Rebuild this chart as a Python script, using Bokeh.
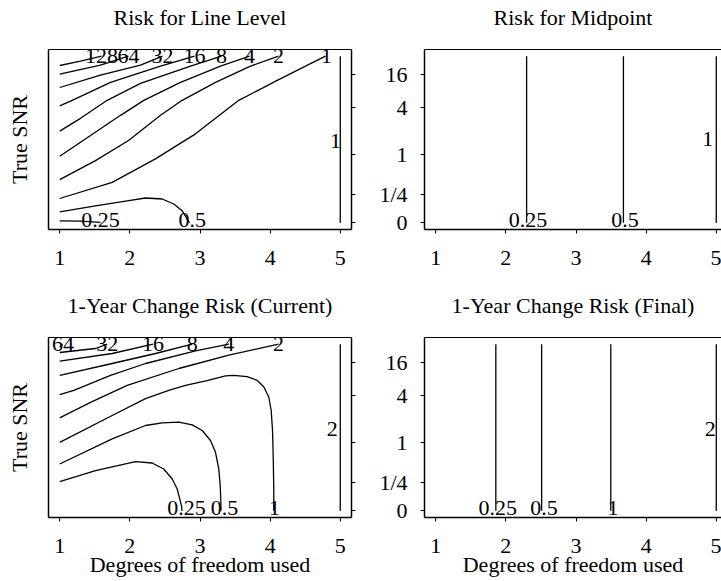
from bokeh.plotting import figure
from bokeh.layouts import row, column
from bokeh.models import FixedTicker, LinearAxis, Range1d
from bokeh.core.properties import value
from bokeh.embed import file_html
from bokeh.resources import INLINE

FONT = "Liberation Serif"
FS = "22px"

# ---------------- axes data ----------------
df_ticks = [1, 2, 3, 4, 5]
snr_tick_pos = [0.0, 0.173, 0.408, 0.695, 0.89]
snr_tick_labels = ["0", "1/4", "1", "4", "16"]

titles = ["Risk for Line Level", "Risk for Midpoint",
          "1-Year Change Risk (Current)", "1-Year Change Risk (Final)"]

# ---------------- panel 1 : Risk for Line Level ----------------
ll_x = [
    [1.0, 1.296, 1.596],
    [1.0, 1.581, 1.981],
    [1.0, 1.581, 2.152, 2.465],
    [1.0, 1.178, 1.724, 2.437, 2.922],
    [1.0, 1.296, 1.677, 2.152, 2.865, 3.307],
    [1.0, 1.439, 1.867, 2.199, 2.722, 3.292, 3.706],
    [1.0, 1.510, 1.981, 2.437, 2.746, 3.221, 3.720, 4.119],
    [1.0, 1.748, 2.365, 2.936, 3.553, 4.101, 4.504, 4.789],
    [1.0, 1.510, 1.985, 2.223, 2.461, 2.626, 2.746, 2.817, 2.850],
    [1.0, 1.296, 1.581],
    [5.0, 5.0],
]
ll_u = [
    [0.944, 0.970, 1.0],
    [0.892, 0.946, 1.0],
    [0.812, 0.886, 0.946, 1.0],
    [0.702, 0.735, 0.843, 0.940, 1.0],
    [0.550, 0.627, 0.735, 0.837, 0.940, 1.0],
    [0.399, 0.524, 0.645, 0.735, 0.843, 0.940, 1.0],
    [0.259, 0.373, 0.494, 0.645, 0.735, 0.843, 0.940, 1.0],
    [0.146, 0.243, 0.384, 0.534, 0.735, 0.855, 0.940, 1.0],
    [0.066, 0.102, 0.133, 0.149, 0.143, 0.113, 0.072, 0.022, 0.0],
    [0.012, 0.010, 0.003],
    [0.0, 1.0],
]
ll_lab_text = ["128", "64", "32", "16", "8", "4", "2", "1", "0.5", "0.25", "1"]
ll_lab_x = [1.596, 1.981, 2.465, 2.922, 3.307, 3.706, 4.119, 4.804, 2.889, 1.581, 4.932]
ll_lab_u = [1.0, 1.0, 1.0, 1.0, 1.0, 1.0, 1.0, 1.0, 0.015, 0.015, 0.494]

# ---------------- panel 2 : Risk for Midpoint ----------------
mid_x = [[2.296, 2.296], [3.676, 3.676], [5.0, 5.0]]
mid_u = [[0.0, 1.0], [0.0, 1.0], [0.0, 1.0]]
mid_lab_text = ["0.25", "0.5", "1"]
mid_lab_x = [2.314, 3.70, 4.879]
mid_lab_u = [0.015, 0.015, 0.506]

# ---------------- panel 3 : 1-Year Change Risk (Current) ----------------
cur_x = [
    [1.0, 1.04],
    [1.0, 1.510, 1.677],
    [1.0, 1.748, 2.330],
    [1.0, 1.748, 2.366, 2.889],
    [1.0, 1.201, 1.724, 2.223, 2.936, 3.411],
    [1.0, 1.439, 1.962, 2.698, 3.411, 4.119],
    [1.0, 1.748, 2.223, 2.555, 2.793, 3.1, 3.364, 3.478, 3.673, 3.815, 3.910,
     3.981, 4.015, 4.034, 4.044, 4.052, 4.052],
    [1.0, 1.748, 2.223, 2.461, 2.698, 2.889, 3.031, 3.150, 3.221, 3.268, 3.288,
     3.296, 3.299],
    [1.0, 1.510, 2.080, 2.318, 2.483, 2.604, 2.675, 2.712, 2.736, 2.745],
    [5.0, 5.0],
]
cur_u = [
    [0.985, 1.0],
    [0.950, 0.974, 1.0],
    [0.898, 0.944, 1.0],
    [0.813, 0.884, 0.944, 1.0],
    [0.697, 0.723, 0.813, 0.884, 0.960, 1.0],
    [0.558, 0.651, 0.753, 0.854, 0.934, 1.0],
    [0.411, 0.572, 0.673, 0.723, 0.753, 0.781, 0.810, 0.813, 0.805, 0.783, 0.743,
     0.683, 0.602, 0.482, 0.321, 0.120, 0.0],
    [0.281, 0.432, 0.512, 0.528, 0.532, 0.516, 0.482, 0.422, 0.351, 0.251, 0.151,
     0.070, 0.0],
    [0.175, 0.241, 0.295, 0.287, 0.251, 0.191, 0.131, 0.070, 0.030, 0.0],
    [0.0, 1.0],
]
cur_lab_text = ["64", "32", "16", "8", "4", "2", "0.25", "0.5", "1", "2"]
cur_lab_x = [1.047, 1.677, 2.330, 2.889, 3.411, 4.119, 2.807, 3.349, 4.062, 4.885]
cur_lab_u = [1.0, 1.0, 1.0, 1.0, 1.0, 1.0, 0.015, 0.015, 0.015, 0.492]

# ---------------- panel 4 : 1-Year Change Risk (Final) ----------------
fin_x = [[1.857, 1.857], [2.51, 2.51], [3.496, 3.496], [5.0, 5.0]]
fin_u = [[0.0, 1.0], [0.0, 1.0], [0.0, 1.0], [0.0, 1.0]]
fin_lab_text = ["0.25", "0.5", "1", "2"]
fin_lab_x = [1.886, 2.543, 3.529, 4.914]
fin_lab_u = [0.015, 0.015, 0.015, 0.492]

PX_PER_DF = 70.14


def style_text(ax):
    ax.major_label_text_font = FONT
    ax.major_label_text_font_size = FS
    ax.major_label_text_color = "black"
    ax.axis_label_text_font = FONT
    ax.axis_label_text_font_size = FS
    ax.axis_label_text_font_style = "normal"
    ax.axis_label_text_color = "black"
    ax.axis_line_color = "black"
    ax.major_tick_line_color = "black"
    ax.minor_tick_line_color = None
    ax.major_tick_in = 0


def hide_labels(ax):
    ax.major_label_standoff = 0
    ax.major_label_text_font_size = "0px"
    ax.major_label_text_color = None


def make_panel(title, xs, us, lab_text, lab_x, lab_u, side, row_pos):
    height = 289 if row_pos == 0 else 292
    top_b = 49 if row_pos == 0 else 48
    frame_h = 180
    if side == "left":
        width, mbl, mbr, fw = 360, 48, 9, 303
    else:
        width, mbl, mbr, fw = 361, 64, 0, 297
    x_end = 0.84 + fw / PX_PER_DF
    p = figure(width=width, height=height,
               x_range=Range1d(0.84, x_end), y_range=Range1d(-0.04, 1.04),
               x_axis_type=None, y_axis_type=None,
               output_backend="svg", toolbar_location=None, tools="",
               min_border_left=mbl, min_border_right=mbr,
               min_border_top=top_b, min_border_bottom=height - top_b - frame_h)
    p.outline_line_color = None
    p.xgrid.visible = False
    p.ygrid.visible = False
    p.background_fill_color = "white"
    p.border_fill_color = "white"

    # bottom axis
    xa = LinearAxis(ticker=FixedTicker(ticks=df_ticks))
    style_text(xa)
    xa.major_tick_out = 4
    xa.major_label_standoff = 17
    xa.axis_line_width = 1.5
    if row_pos == 1:
        xa.axis_label = "Degrees of freedom used"
        xa.axis_label_standoff = -4
    p.add_layout(xa, "below")

    # top border line carrying the panel title
    ta = LinearAxis(ticker=FixedTicker(ticks=[]))
    style_text(ta)
    hide_labels(ta)
    ta.major_tick_out = 0
    ta.axis_line_width = 1.2
    ta.axis_label = title
    ta.axis_label_standoff = 20
    p.add_layout(ta, "above")

    if side == "left":
        ya = LinearAxis(ticker=FixedTicker(ticks=[]))
        style_text(ya)
        hide_labels(ya)
        ya.major_tick_out = 0
        ya.axis_line_width = 1.5
        ya.axis_label = "True SNR"
        ya.axis_label_standoff = 17
        p.add_layout(ya, "left")
        ra = LinearAxis(ticker=FixedTicker(ticks=snr_tick_pos))
        style_text(ra)
        hide_labels(ra)
        ra.major_tick_out = 4
        ra.axis_line_width = 1.5
        p.add_layout(ra, "right")
    else:
        ya = LinearAxis(ticker=FixedTicker(ticks=snr_tick_pos),
                        major_label_overrides=dict(zip(snr_tick_pos, snr_tick_labels)))
        style_text(ya)
        ya.major_tick_out = 4
        ya.major_label_standoff = 13
        ya.axis_line_width = 1.5
        p.add_layout(ya, "left")

    p.multi_line(xs=xs, ys=us, line_color="black", line_width=1.3)
    p.text(x=lab_x, y=lab_u, text=lab_text, text_font=value(FONT),
           text_font_size=FS, text_align="center", text_baseline="middle",
           text_color="black")
    return p


p1 = make_panel(titles[0], ll_x, ll_u, ll_lab_text, ll_lab_x, ll_lab_u, "left", 0)
p2 = make_panel(titles[1], mid_x, mid_u, mid_lab_text, mid_lab_x, mid_lab_u, "right", 0)
p3 = make_panel(titles[2], cur_x, cur_u, cur_lab_text, cur_lab_x, cur_lab_u, "left", 1)
p4 = make_panel(titles[3], fin_x, fin_u, fin_lab_text, fin_lab_x, fin_lab_u, "right", 1)

layout = column(row(p1, p2, spacing=0), row(p3, p4, spacing=0), spacing=0)

open("out.html", "w").write(file_html(layout, INLINE))
